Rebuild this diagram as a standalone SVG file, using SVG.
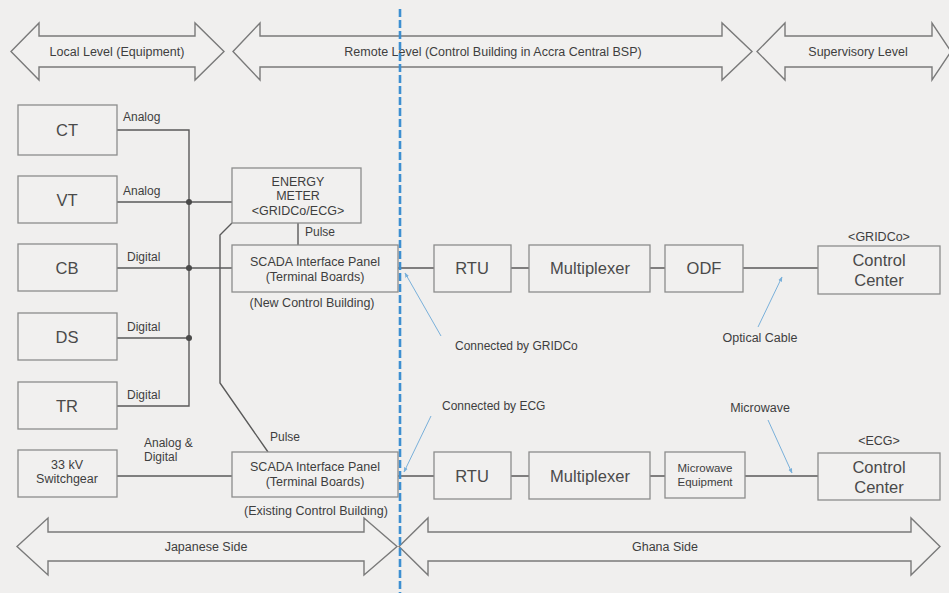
<svg xmlns="http://www.w3.org/2000/svg" width="949" height="593" viewBox="0 0 949 593">
<style>
.bg{fill:#f0efee}
.box{fill:#f1f0ef;stroke:#8c8c8c;stroke-width:1.3}
.band{fill:#f1f0ef;stroke:#7a7a7a;stroke-width:1.4}
.ln{fill:none;stroke:#5a5a5a;stroke-width:1.4}
.ann{fill:none;stroke:#79b0da;stroke-width:1}
.dash{fill:none;stroke:#3d8fd1;stroke-width:2.6;stroke-dasharray:8 3}
text{font-family:"Liberation Sans",Arial,sans-serif;fill:#3e3e3e}
.s{font-size:12px}
.m{font-size:12.5px;text-anchor:middle}
.b{font-size:16.5px;text-anchor:middle;fill:#4a4a4a}
.c{text-anchor:middle}
</style>
<defs>
<marker id="ah" viewBox="0 0 10 10" refX="9" refY="5" markerWidth="5" markerHeight="5" orient="auto">
<path d="M0,1 L10,5 L0,9 Z" fill="#79b0da"/>
</marker>
</defs>
<rect class="bg" x="0" y="0" width="949" height="593"/>

<g id="level-arrows">
<g id="local-level"><path class="band" d="M11,51.5 L39,23 L39,36 L195,36 L195,23 L224,51.5 L195,80 L195,67 L39,67 L39,80 Z"/><text class="m" x="117" y="56">Local Level (Equipment)</text></g>
<g id="remote-level"><path class="band" d="M233,51.5 L260,23 L260,36 L722,36 L722,23 L752,51.5 L722,80 L722,67 L260,67 L260,80 Z"/><text class="m" x="493" y="56">Remote Level (Control Building in Accra Central BSP)</text></g>
<g id="supervisory-level"><path class="band" d="M757,51.5 L785,23 L785,36 L932,36 L932,23 L951,51.5 L932,80 L932,67 L785,67 L785,80 Z"/><text class="m" x="858" y="56">Supervisory Level</text></g>
<g id="japanese-side"><path class="band" d="M17,546.5 L48,518 L48,532 L364,532 L364,518 L397,546.5 L364,575 L364,561 L48,561 L48,575 Z"/><text class="m" x="206" y="551">Japanese Side</text></g>
<g id="ghana-side"><path class="band" d="M399,546.5 L428,518 L428,532 L911,532 L911,518 L940,546.5 L911,575 L911,561 L428,561 L428,575 Z"/><text class="m" x="665" y="551">Ghana Side</text></g>
</g>

<g id="connectors">
<path class="ln" d="M117,130 H189 V406 H117"/>
<path class="ln" d="M117,202 H232"/>
<path class="ln" d="M117,268 H232"/>
<path class="ln" d="M117,338 H189"/>
<path class="ln" d="M298,223 V245"/>
<path class="ln" d="M232,223 L220,235 V383 L268,452"/>
<path class="ln" d="M117,476 H232"/>
<path class="ln" d="M398,268 H434 M511,268 H529 M650,268 H665 M743,268 H818"/>
<path class="ln" d="M398,476 H434 M511,476 H529 M650,476 H665 M745,476 H818"/>
<circle cx="189" cy="202" r="3" fill="#4a4a4a"/>
<circle cx="189" cy="268" r="3" fill="#4a4a4a"/>
<circle cx="189" cy="338" r="3" fill="#4a4a4a"/>
<path class="ann" d="M441,336 L405,273" marker-end="url(#ah)"/>
<path class="ann" d="M431,416 L404,472" marker-end="url(#ah)"/>
<path class="ann" d="M758,327 L782,277" marker-end="url(#ah)"/>
<path class="ann" d="M768,420 L792,473" marker-end="url(#ah)"/>
</g>

<line id="boundary" class="dash" x1="400" y1="9" x2="400" y2="593"/>

<g id="labels">
<text class="s" x="123" y="121">Analog</text>
<text class="s" x="123" y="195">Analog</text>
<text class="s" x="127" y="261">Digital</text>
<text class="s" x="127" y="331">Digital</text>
<text class="s" x="127" y="399">Digital</text>
<text class="s" x="144" y="447">Analog &amp;</text>
<text class="s" x="144" y="461">Digital</text>
<text class="s" x="305" y="236">Pulse</text>
<text class="s" x="270" y="441">Pulse</text>
<text class="m" x="312" y="307">(New Control Building)</text>
<text class="m" x="316" y="515">(Existing Control Building)</text>
<text class="s" x="455" y="350">Connected by GRIDCo</text>
<text class="s" x="442" y="410">Connected by ECG</text>
<text class="m" x="760" y="342">Optical Cable</text>
<text class="m" x="760" y="412">Microwave</text>
<text class="m" x="879" y="241">&lt;GRIDCo&gt;</text>
<text class="m" x="879" y="445">&lt;ECG&gt;</text>
</g>

<g id="ct"><rect class="box" x="18" y="105" width="99" height="50"/><text class="b" x="67" y="136">CT</text></g>
<g id="vt"><rect class="box" x="18" y="176" width="99" height="47"/><text class="b" x="67" y="206">VT</text></g>
<g id="cb"><rect class="box" x="18" y="244" width="99" height="47"/><text class="b" x="67" y="274">CB</text></g>
<g id="ds"><rect class="box" x="18" y="313" width="99" height="47"/><text class="b" x="67" y="343">DS</text></g>
<g id="tr"><rect class="box" x="18" y="382" width="99" height="47"/><text class="b" x="67" y="412">TR</text></g>
<g id="switchgear"><rect class="box" x="18" y="450" width="99" height="47"/><text class="m" x="67" y="469">33 kV</text><text class="m" x="67" y="483">Switchgear</text></g>
<g id="energy-meter"><rect class="box" x="232" y="168" width="129" height="55"/><text class="m" x="298" y="186">ENERGY</text><text class="m" x="298" y="200">METER</text><text class="m" x="298" y="215">&lt;GRIDCo/ECG&gt;</text></g>
<g id="scada-new"><rect class="box" x="232" y="245" width="166" height="47"/><text class="m" x="315" y="266">SCADA Interface Panel</text><text class="m" x="315" y="281">(Terminal Boards)</text></g>
<g id="scada-existing"><rect class="box" x="232" y="452" width="166" height="45"/><text class="m" x="315" y="471">SCADA Interface Panel</text><text class="m" x="315" y="486">(Terminal Boards)</text></g>
<g id="rtu-1"><rect class="box" x="434" y="245" width="77" height="47"/><text class="b" x="472" y="274">RTU</text></g>
<g id="mux-1"><rect class="box" x="529" y="245" width="121" height="47"/><text class="b" x="590" y="274">Multiplexer</text></g>
<g id="odf"><rect class="box" x="665" y="245" width="78" height="47"/><text class="b" x="704" y="274">ODF</text></g>
<g id="cc-gridco"><rect class="box" x="818" y="246" width="122" height="48"/><text class="b" x="879" y="266">Control</text><text class="b" x="879" y="286">Center</text></g>
<g id="rtu-2"><rect class="box" x="434" y="452" width="77" height="47"/><text class="b" x="472" y="482">RTU</text></g>
<g id="mux-2"><rect class="box" x="529" y="452" width="121" height="47"/><text class="b" x="590" y="482">Multiplexer</text></g>
<g id="microwave-eq"><rect class="box" x="665" y="452" width="80" height="46"/><text class="c" x="705" y="472" font-size="11.5">Microwave</text><text class="c" x="705" y="486" font-size="11.5">Equipment</text></g>
<g id="cc-ecg"><rect class="box" x="818" y="453" width="122" height="47"/><text class="b" x="879" y="473">Control</text><text class="b" x="879" y="493">Center</text></g>
</svg>
